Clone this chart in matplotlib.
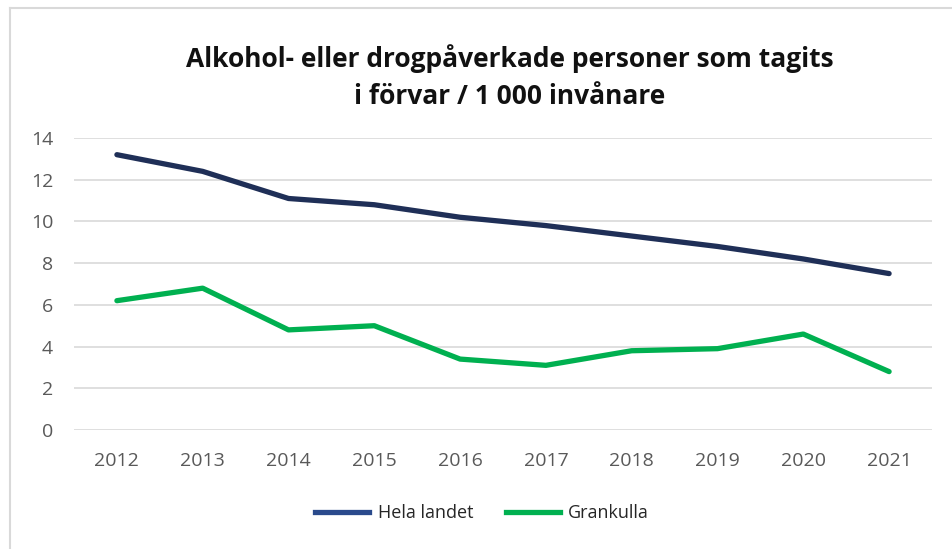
import matplotlib
matplotlib.use("Agg")
import matplotlib.pyplot as plt
from matplotlib.lines import Line2D

years = ["2012", "2013", "2014", "2015", "2016", "2017", "2018", "2019", "2020", "2021"]
hela_landet = [13.2, 12.4, 11.1, 10.8, 10.2, 9.8, 9.3, 8.8, 8.2, 7.5]
grankulla = [6.2, 6.8, 4.8, 5.0, 3.4, 3.1, 3.8, 3.9, 4.6, 2.8]
y_ticks = [0, 2, 4, 6, 8, 10, 12, 14]

plt.rcParams['font.family'] = ['Open Sans', 'DejaVu Sans']

W, H = 952, 549
fig = plt.figure(figsize=(W / 100, H / 100), dpi=100)
ax = fig.add_axes([74 / W, 1 - 430 / H, (932 - 74) / W, (430 - 138) / H])

x = range(len(years))
ax.plot(x, hela_landet, color='#1f2f57', lw=3.8, solid_capstyle='round', label='Hela landet')
ax.plot(x, grankulla, color='#00b050', lw=3.8, solid_capstyle='round', label='Grankulla')

ax.set_xlim(-0.5, len(years) - 0.5)
ax.set_ylim(0, 14)
ax.set_yticks(y_ticks)
ax.set_xticks(list(x))
ax.set_xticklabels(years)
ax.grid(axis='y', color='#d9d9d9', lw=1.2)
ax.set_axisbelow(True)
for s in ax.spines.values():
    s.set_visible(False)
ax.tick_params(length=0, labelsize=14, colors='#595959')
ax.tick_params(axis='y', pad=15)
ax.tick_params(axis='x', pad=16)

fig.text(510 / W, 1 - 77 / H, "Alkohol- eller drogpåverkade personer som tagits\ni förvar / 1 000 invånare",
         ha='center', va='center', fontsize=19, fontweight='bold', color='#111111', linespacing=1.5)

handles = [Line2D([], [], color='#2a4a8c', lw=3.8), Line2D([], [], color='#00b050', lw=3.8)]
fig.legend(handles, ['Hela landet', 'Grankulla'], loc='center', bbox_to_anchor=(482 / W, 1 - 513 / H),
           ncol=2, frameon=False, fontsize=13, handlelength=3.0, columnspacing=1.8, handletextpad=0.45,
           labelcolor='#262626')

# chart border (top and left)
fig.add_artist(Line2D([10 / W, 10 / W], [0, 1 - 8 / H], color='#d9d9d9', lw=1.5))
fig.add_artist(Line2D([10 / W, 1], [1 - 8 / H, 1 - 8 / H], color='#d9d9d9', lw=1.5))

fig.savefig("out.png", dpi=100)
